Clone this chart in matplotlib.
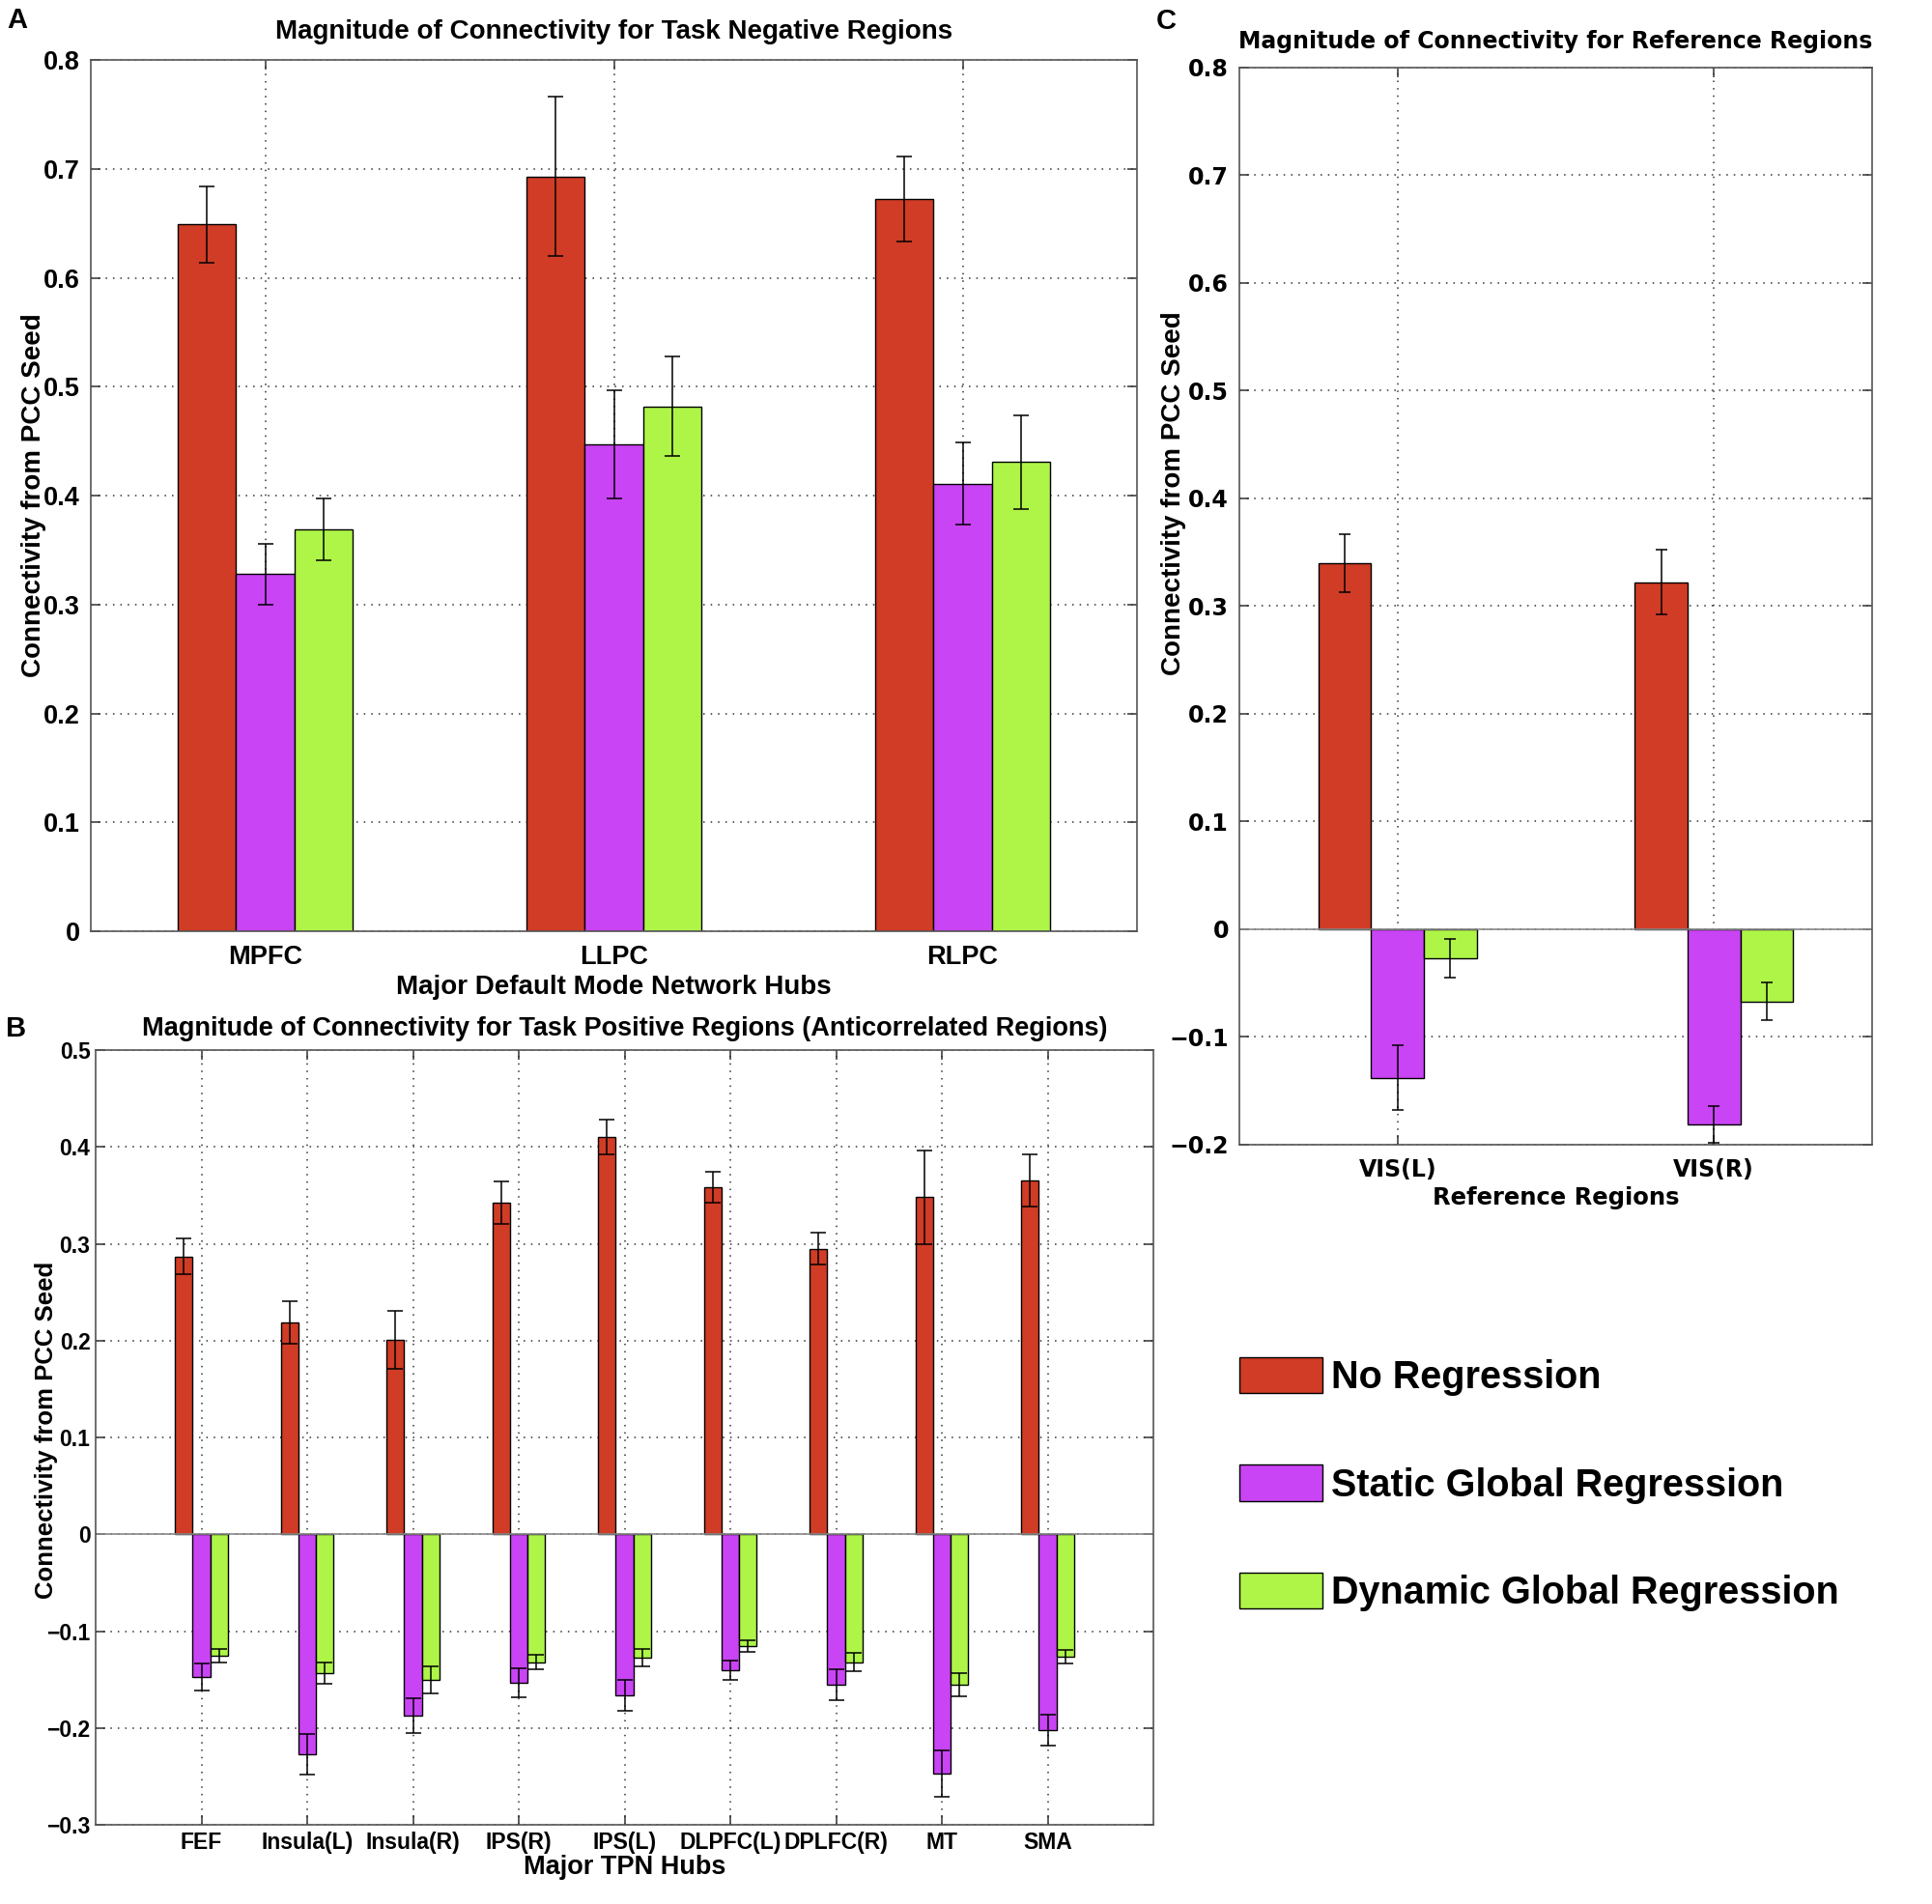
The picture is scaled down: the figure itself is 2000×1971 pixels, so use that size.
import numpy as np
import matplotlib
matplotlib.use('Agg')
import matplotlib.pyplot as plt
from matplotlib.ticker import FuncFormatter

# ---- data ----
series_names = ['No Regression', 'Static Global Regression', 'Dynamic Global Regression']
colors = ['#D03C25', '#C944F4', '#AEF548']

dmn_hubs = ['MPFC', 'LLPC', 'RLPC']
dmn_none = [0.649, 0.693, 0.672]
dmn_static = [0.328, 0.447, 0.411]
dmn_dynamic = [0.369, 0.482, 0.431]
dmn_none_err = [0.035, 0.073, 0.039]
dmn_static_err = [0.028, 0.050, 0.038]
dmn_dynamic_err = [0.028, 0.046, 0.043]

tpn_hubs = ['FEF', 'Insula(L)', 'Insula(R)', 'IPS(R)', 'IPS(L)', 'DLPFC(L)', 'DPLFC(R)', 'MT', 'SMA']
tpn_none = [0.287, 0.219, 0.201, 0.342, 0.410, 0.358, 0.295, 0.348, 0.365]
tpn_static = [-0.147, -0.227, -0.187, -0.153, -0.166, -0.140, -0.155, -0.247, -0.202]
tpn_dynamic = [-0.125, -0.143, -0.150, -0.132, -0.127, -0.115, -0.132, -0.155, -0.126]
tpn_none_err = [0.018, 0.022, 0.030, 0.022, 0.018, 0.016, 0.016, 0.048, 0.027]
tpn_static_err = [0.014, 0.021, 0.018, 0.015, 0.016, 0.010, 0.016, 0.024, 0.016]
tpn_dynamic_err = [0.007, 0.011, 0.014, 0.0075, 0.009, 0.006, 0.0095, 0.012, 0.007]

ref_regions = ['VIS(L)', 'VIS(R)']
ref_none = [0.340, 0.322]
ref_static = [-0.138, -0.181]
ref_dynamic = [-0.027, -0.067]
ref_none_err = [0.027, 0.030]
ref_static_err = [0.030, 0.017]
ref_dynamic_err = [0.018, 0.0175]

ARIAL = 'Liberation Sans'
WIDE = 'DejaVu Sans'
grid_style = (0, (1, 4))


def fmt_tick(v, pos):
    s = '%g' % round(v, 3)
    return s.replace('-', '\u2212')


def bar_panel(ax, cats, vals, errs, capsize, tick_fs, tick_font, ylim, xlim):
    x = np.arange(1, len(cats) + 1)
    w = 1 / 6
    bars = []
    for i, (v, e) in enumerate(zip(vals, errs)):
        pos = x + (i - 1) * w
        b = ax.bar(pos, v, width=w, color=colors[i], edgecolor='k', linewidth=1.0, zorder=2)
        bars.append(b)
        ax.errorbar(pos, v, yerr=e, fmt='none', ecolor='k', elinewidth=1.1,
                    capsize=capsize, capthick=1.1, zorder=3)
    ax.set_xlim(*xlim)
    ax.set_ylim(*ylim)
    ax.set_yticks(np.arange(ylim[0], ylim[1] + 1e-9, 0.1))
    ax.yaxis.set_major_formatter(FuncFormatter(fmt_tick))
    ax.set_xticks(x)
    ax.set_xticklabels(cats)
    ax.set_axisbelow(True)
    ax.grid(True, linestyle=grid_style, color='#333333', linewidth=1.1)
    ax.tick_params(direction='in', top=True, right=True, length=7, width=1.1, color='#333333')
    for lab in ax.get_xticklabels() + ax.get_yticklabels():
        lab.set_fontfamily(tick_font)
        lab.set_fontweight('bold')
        lab.set_fontsize(tick_fs)
    for sp in ax.spines.values():
        sp.set_color('#555555')
        sp.set_linewidth(1.2)
    if ylim[0] < 0:
        ax.axhline(0, color='#888888', linewidth=1.2, zorder=2.5)
    return bars


fig = plt.figure(figsize=(20, 19.71), dpi=100)
axA = fig.add_axes([0.047, 0.5109, 0.5415, 0.4576])
axB = fig.add_axes([0.0495, 0.0416, 0.5475, 0.4069])
axC = fig.add_axes([0.6415, 0.3988, 0.3275, 0.5657])

# Panel A
bars = bar_panel(axA, dmn_hubs, [dmn_none, dmn_static, dmn_dynamic],
                 [dmn_none_err, dmn_static_err, dmn_dynamic_err], 6, 19.5, ARIAL,
                 (0, 0.8), (0.5, 3.5))
axA.tick_params(axis='x', pad=10)
axA.tick_params(axis='y', pad=8)
axA.set_title('Magnitude of Connectivity for Task Negative Regions', fontsize=20,
              fontweight='bold', family=ARIAL, pad=16)
axA.set_xlabel('Major Default Mode Network Hubs', fontsize=20, fontweight='bold', family=ARIAL, labelpad=4)
axA.set_ylabel('Connectivity from PCC Seed', fontsize=20, fontweight='bold', family=ARIAL)
axA.yaxis.set_label_coords(-0.0425, 0.5)

# Panel B
bar_panel(axB, tpn_hubs, [tpn_none, tpn_static, tpn_dynamic],
          [tpn_none_err, tpn_static_err, tpn_dynamic_err], 6, 16.5, ARIAL,
          (-0.3, 0.5), (0, 10))
axB.tick_params(axis='x', pad=5)
axB.tick_params(axis='y', pad=4)
axB.set_title('Magnitude of Connectivity for Task Positive Regions (Anticorrelated Regions)',
              fontsize=19.5, fontweight='bold', family=ARIAL, pad=11)
axB.set_xlabel('Major TPN Hubs', fontsize=19.5, fontweight='bold', family=ARIAL, labelpad=1)
axB.set_ylabel('Connectivity from PCC Seed', fontsize=18.5, fontweight='bold', family=ARIAL)
axB.yaxis.set_label_coords(-0.0357, 0.51)

# Panel C
bar_panel(axC, ref_regions, [ref_none, ref_static, ref_dynamic],
          [ref_none_err, ref_static_err, ref_dynamic_err], 4, 17, WIDE,
          (-0.2, 0.8), (0.5, 2.5))
axC.tick_params(axis='x', pad=10)
axC.tick_params(axis='y', pad=8)
axC.set_title('Magnitude of Connectivity for Reference Regions', fontsize=17,
              fontweight='bold', family=WIDE, pad=14.5)
axC.set_xlabel('Reference Regions', fontsize=17.5, fontweight='bold', family=WIDE, labelpad=4)
axC.set_ylabel('Connectivity from PCC Seed', fontsize=20, fontweight='bold', family=ARIAL)
axC.yaxis.set_label_coords(-0.084, 0.605)

# panel letters
for letter, (px, py) in zip('ABC', [(7, 7), (6, 1051), (1197, 8)]):
    fig.text(px / 2000, 1 - py / 1971, letter, fontsize=21, fontweight='bold', family=ARIAL,
             ha='left', va='top')

# legend
fig.legend([b[0] for b in bars], series_names, loc='upper left',
           bbox_to_anchor=(1283 / 2000, 1 - 1405 / 1971), frameon=False, borderpad=0,
           borderaxespad=0, handlelength=2.17, handleheight=1.08, handletextpad=0.23,
           labelspacing=1.80, prop={'family': ARIAL, 'weight': 'bold', 'size': 28.5})

fig.savefig('out.png', dpi=100, facecolor='white')
